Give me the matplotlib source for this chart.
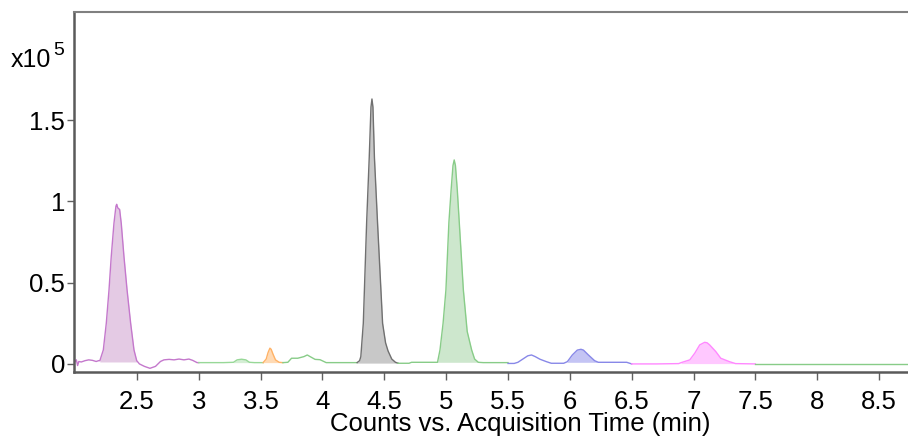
import matplotlib as mpl
import matplotlib.pyplot as plt

mpl.use("Agg")
plt.rcParams["font.family"] = ["Liberation Sans", "DejaVu Sans"]

# TRACE SEGMENTS (time in min, counts in x10^5)
purple_t = [2.00, 2.01, 2.02, 2.03, 2.05, 2.08, 2.11, 2.14, 2.17, 2.19, 2.20, 2.228, 2.252, 2.274, 2.292,
            2.314, 2.33, 2.336, 2.345, 2.36, 2.373, 2.395, 2.42, 2.449, 2.476, 2.498, 2.52, 2.56, 2.605,
            2.65, 2.69, 2.718, 2.76, 2.80, 2.84, 2.88, 2.92, 2.95, 2.986, 3.00]
purple_v = [0.015, 0.025, -0.01, 0.015, 0.012, 0.02, 0.025, 0.022, 0.015, 0.02, 0.02, 0.086, 0.25, 0.455, 0.66,
            0.865, 0.97, 0.982, 0.96, 0.95, 0.865, 0.66, 0.455, 0.25, 0.086, 0.02, 0.0, -0.015, -0.027,
            -0.015, 0.015, 0.025, 0.028, 0.025, 0.03, 0.025, 0.03, 0.022, 0.008, 0.008]

green1_t = [3.00, 3.10, 3.20, 3.28, 3.31, 3.345, 3.38, 3.41, 3.45, 3.52]
green1_v = [0.008, 0.008, 0.008, 0.01, 0.025, 0.029, 0.025, 0.01, 0.008, 0.008]

orange_t = [3.52, 3.545, 3.56, 3.575, 3.585, 3.60, 3.62, 3.65, 3.68]
orange_v = [0.008, 0.03, 0.07, 0.097, 0.09, 0.06, 0.025, 0.01, 0.008]

green2_t = [3.68, 3.72, 3.75, 3.80, 3.85, 3.877, 3.90, 3.94, 3.98, 4.03, 4.10, 4.20, 4.28]
green2_v = [0.008, 0.01, 0.035, 0.035, 0.045, 0.055, 0.045, 0.028, 0.026, 0.008, 0.008, 0.008, 0.008]

gray_t = [4.28, 4.30, 4.31, 4.33, 4.357, 4.378, 4.392, 4.40, 4.408, 4.42, 4.445, 4.486, 4.51, 4.53,
          4.56, 4.59, 4.61]
gray_v = [0.008, 0.02, 0.045, 0.25, 0.87, 1.27, 1.58, 1.63, 1.58, 1.27, 0.87, 0.25, 0.13, 0.08,
          0.03, 0.01, 0.005]

green3_t = [4.61, 4.65, 4.70, 4.72, 4.80, 4.90, 4.93, 4.95, 4.975, 4.998, 5.022, 5.04, 5.055, 5.065,
            5.075, 5.09, 5.106, 5.139, 5.17, 5.206, 5.23, 5.26, 5.30, 5.40, 5.50]
green3_v = [0.004, 0.004, 0.004, 0.01, 0.01, 0.01, 0.01, 0.086, 0.25, 0.455, 0.87, 1.07, 1.22, 1.255,
            1.22, 1.07, 0.87, 0.455, 0.2, 0.086, 0.03, 0.01, 0.008, 0.008, 0.008]

blue_t = [5.50, 5.55, 5.58, 5.62, 5.66, 5.69, 5.72, 5.758, 5.81, 5.85, 5.90, 5.95, 5.98, 6.02, 6.06,
          6.09, 6.11, 6.15, 6.20, 6.23, 6.30, 6.40, 6.46, 6.50]
blue_v = [0.003, 0.003, 0.01, 0.03, 0.05, 0.055, 0.045, 0.029, 0.014, 0.004, 0.004, 0.004, 0.014, 0.055,
          0.085, 0.09, 0.085, 0.055, 0.02, 0.01, 0.01, 0.01, 0.01, 0.0]

pink_t = [6.50, 6.70, 6.88, 6.90, 6.97, 7.01, 7.05, 7.09, 7.11, 7.13, 7.18, 7.22, 7.29, 7.34, 7.50]
pink_v = [0.0, 0.0, 0.002, 0.008, 0.025, 0.066, 0.117, 0.133, 0.13, 0.117, 0.076, 0.035, 0.014, 0.002, 0.0]

green4_t = [7.50, 8.00, 8.50, 8.75]
green4_v = [0.002, 0.002, 0.002, 0.002]

x_ticks = [2.5, 3, 3.5, 4, 4.5, 5, 5.5, 6, 6.5, 7, 7.5, 8, 8.5]
y_ticks = [0, 0.5, 1, 1.5]

# (times, values, line colour, fill colour, fill start, fill end, fill base)
segments = [
    (purple_t, purple_v, "#C478CC", "#E4CAE4", 2.20, 2.50, 0.012),
    (green1_t, green1_v, "#98D898", "#D4EED4", 3.28, 3.41, 0.008),
    (orange_t, orange_v, "#FFB266", "#FFDAB4", 3.52, 3.68, 0.008),
    (green2_t, green2_v, "#88CC88", None, 0, 0, 0),
    (gray_t, gray_v, "#707070", "#C8C8C8", 4.28, 4.61, 0.005),
    (green3_t, green3_v, "#88CC88", "#CDE7CD", 4.93, 5.26, 0.01),
    (blue_t, blue_v, "#8888E8", "#C4C4F4", 5.98, 6.23, 0.01),
    (pink_t, pink_v, "#FF88FF", "#FFC8FF", 6.90, 7.34, 0.002),
    (green4_t, green4_v, "#88CC88", None, 0, 0, 0),
]

fig = plt.figure(figsize=(9.08, 4.37), dpi=100)
ax = fig.add_axes([0.0815, 0.149, 0.9185, 0.8235])

for t, v, lc, fc, f0, f1, base in segments:
    if fc is not None:
        ax.fill_between(t, v, base, where=[f0 <= ti <= f1 for ti in t], color=fc, lw=0, zorder=1)
    ax.plot(t, v, color=lc, lw=1.0, zorder=2)

ax.set_xlim(1.991, 8.734)
ax.set_ylim(-0.049, 2.165)

ax.set_xticks(x_ticks)
ax.set_xticklabels([f"{x:g}" for x in x_ticks], fontsize=18.5)
ax.set_yticks(y_ticks)
ax.set_yticklabels([f"{y:g}" for y in y_ticks], fontsize=18.5)
ax.tick_params(axis="x", direction="out", length=6, width=1, color="#606060", pad=7)
ax.tick_params(axis="y", direction="out", length=5, width=1, color="#606060", pad=1.5)

for side in ["left", "bottom"]:
    ax.spines[side].set_color("#5A5A5A")
    ax.spines[side].set_linewidth(1.8)
ax.spines["top"].set_color("#808080")
ax.spines["top"].set_linewidth(1.5)
ax.spines["right"].set_visible(False)

fig.text(0.012, 0.847, "x10", fontsize=18, va="baseline", ha="left")
fig.text(0.059, 0.875, "5", fontsize=14, va="baseline", ha="left")

fig.text(0.573, 0.014, "Counts vs. Acquisition Time (min)", fontsize=18.5, ha="center", va="baseline")

fig.savefig("out.png", dpi=100)
